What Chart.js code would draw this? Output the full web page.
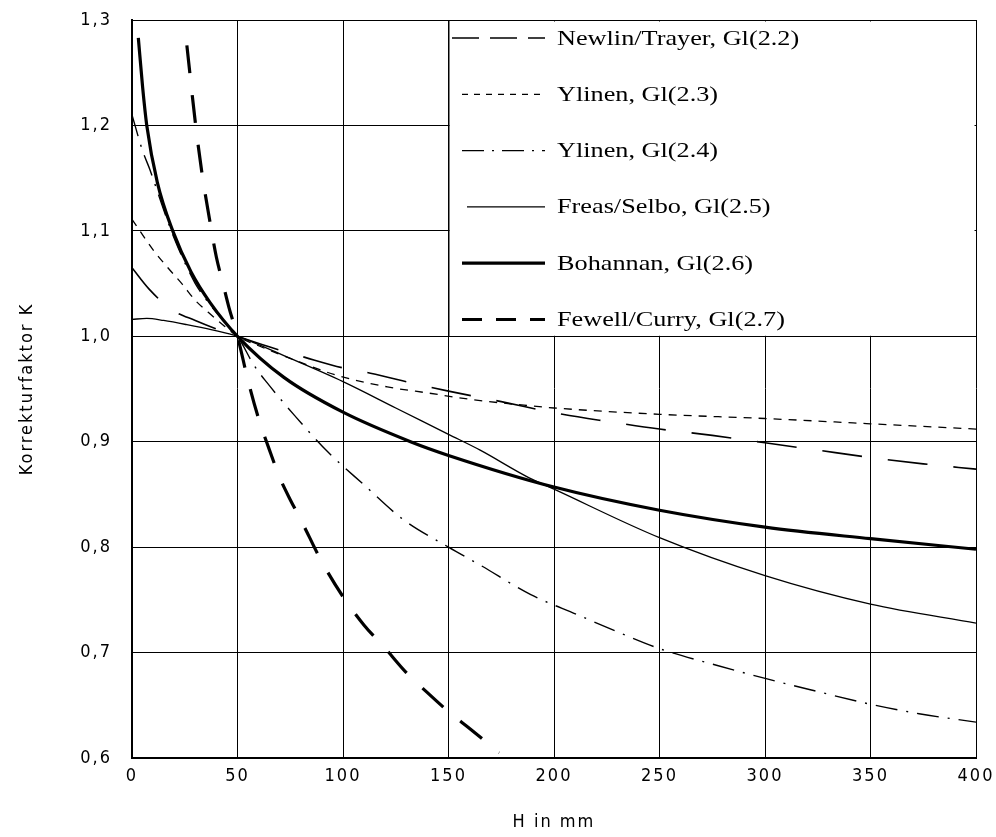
<!DOCTYPE html>
<html>
<head>
<meta charset="utf-8">
<script src="https://cdn.jsdelivr.net/npm/chart.js@4/dist/chart.umd.min.js"></script>
<style>
  html, body { margin: 0; padding: 0; background: #fff; }
  #wrap { width: 996px; height: 837px; }
</style>
</head>
<body>
<div id="wrap"><canvas id="chart" width="996" height="837"></canvas></div>
<script>
// tick labels
var xTicks = [0, 50, 100, 150, 200, 250, 300, 350, 400];
var yTickLabels = ['0,6', '0,7', '0,8', '0,9', '1,0', '1,1', '1,2', '1,3'];

// series names (legend)
var seriesNames = [
  'Newlin/Trayer, Gl(2.2)',
  'Ylinen, Gl(2.3)',
  'Ylinen, Gl(2.4)',
  'Freas/Selbo, Gl(2.5)',
  'Bohannan, Gl(2.6)',
  'Fewell/Curry, Gl(2.7)'
];

// values: H in mm, K
var newlinH = [0, 8, 19, 30, 40, 50, 65, 82, 100, 113, 136, 150, 175, 204, 226, 250, 275, 300, 325, 350, 375, 400];
var newlinK = [1.065, 1.045, 1.025, 1.015, 1.007, 1.0, 0.990, 0.980, 0.970, 0.965, 0.954, 0.948, 0.938, 0.926, 0.919, 0.912, 0.906, 0.899, 0.892, 0.885, 0.879, 0.874];

var ylinen3H = [0, 10, 17, 24, 30, 36, 43, 50, 60, 75, 97, 121, 141, 161, 189, 200, 250, 300, 350, 400];
var ylinen3K = [1.111, 1.082, 1.065, 1.049, 1.034, 1.023, 1.011, 1.0, 0.991, 0.979, 0.963, 0.952, 0.946, 0.940, 0.934, 0.932, 0.926, 0.922, 0.917, 0.912];

var ylinen4H = [0, 5, 8.5, 15, 20, 25, 30, 37, 44, 50, 58, 64, 77, 93, 110, 128, 150, 165, 189, 211, 232, 251, 277, 301, 323, 350, 373, 400];
var ylinen4K = [1.21, 1.176, 1.158, 1.12, 1.093, 1.07, 1.05, 1.03, 1.014, 1.0, 0.972, 0.956, 0.925, 0.890, 0.859, 0.827, 0.800, 0.783, 0.755, 0.736, 0.718, 0.703, 0.688, 0.675, 0.664, 0.651, 0.642, 0.634];

var freasH = [0, 7, 15, 26, 38, 50, 75, 100, 125, 150, 165, 188, 200, 250, 300, 350, 400];
var freasK = [1.016, 1.017, 1.015, 1.011, 1.006, 1.0, 0.979, 0.957, 0.932, 0.907, 0.892, 0.866, 0.855, 0.809, 0.773, 0.746, 0.728];

var bohannanH = [3, 5, 7, 12, 19.5, 28, 37, 50, 72, 100, 132, 150, 200, 250, 300, 350, 400];
var bohannanK = [1.283, 1.237, 1.2, 1.146, 1.099, 1.061, 1.032, 1.0, 0.961, 0.928, 0.900, 0.887, 0.857, 0.835, 0.819, 0.808, 0.798];

var fewellH = [26, 30, 33, 37, 40, 43, 46, 50, 55, 60, 65, 70, 75, 80, 90, 100, 110, 120, 130, 140, 150, 160, 174];
var fewellK = [1.276, 1.203, 1.157, 1.108, 1.075, 1.051, 1.027, 1.0, 0.958, 0.922, 0.893, 0.866, 0.845, 0.826, 0.786, 0.753, 0.726, 0.704, 0.681, 0.662, 0.644, 0.628, 0.605];

function pts(xs, ys) {
  var out = [];
  for (var i = 0; i < xs.length; i++) out.push({x: xs[i], y: ys[i]});
  return out;
}

function line(label, xs, ys, width, dash) {
  return {
    label: label,
    data: pts(xs, ys),
    borderColor: '#000',
    borderWidth: width,
    borderDash: dash,
    borderCapStyle: 'butt',
    pointRadius: 0,
    fill: false,
    cubicInterpolationMode: 'monotone'
  };
}

var legendDash = [[27, 11], [6, 6], [22, 8, 2, 8], [], [], [20, 14]];
var legendFrom = [452, 462, 462, 467, 462, 462];

// spaced-out axis lettering like the scan
var spacing = {
  id: 'spacing',
  beforeDraw: function(chart) { chart.ctx.letterSpacing = '2px'; }
};

// white legend box sitting in the upper right cells
var legendBox = {
  id: 'legendBox',
  afterDatasetsDraw: function(chart) {
    var ctx = chart.ctx;
    var xs = chart.scales.x, ys = chart.scales.y;
    var l = xs.getPixelForValue(150), r = xs.getPixelForValue(400);
    var t = ys.getPixelForValue(1.3), b = ys.getPixelForValue(1.0);
    ctx.save();
    ctx.letterSpacing = '0px';
    ctx.fillStyle = '#fff';
    ctx.fillRect(l + 1, t + 1.5, r - l - 2.5, b - t - 2);
    ctx.strokeStyle = '#000';
    ctx.lineWidth = 1;
    ctx.beginPath();
    ctx.moveTo(l + 0.5, t); ctx.lineTo(l + 0.5, b);
    ctx.stroke();
    chart.data.datasets.forEach(function(ds, i) {
      var cy = t + 18 + i * 56.3;
      ctx.lineWidth = ds.borderWidth;
      ctx.setLineDash(legendDash[i]);
      ctx.beginPath();
      ctx.moveTo(legendFrom[i], cy);
      ctx.lineTo(545, cy);
      ctx.stroke();
      ctx.setLineDash([]);
      ctx.save();
      ctx.translate(557, cy);
      ctx.scale(1.25, 1);
      ctx.fillStyle = '#000';
      ctx.font = '21px "Liberation Serif", "Times New Roman", serif';
      ctx.textBaseline = 'middle';
      ctx.fillText(ds.label, 0, 1);
      ctx.restore();
    });
    ctx.restore();
  }
};

var tickFont = {family: '"Liberation Sans Narrow", "DejaVu Sans Condensed", sans-serif', size: 18};

var ctx = document.getElementById('chart').getContext('2d');
var chart = new Chart(ctx, {
  type: 'line',
  data: {
    datasets: [
      line(seriesNames[0], newlinH, newlinK, 1.6, [40, 26]),
      line(seriesNames[1], ylinen3H, ylinen3K, 1.3, [8, 7]),
      line(seriesNames[2], ylinen4H, ylinen4K, 1.4, [22, 9, 2, 9]),
      line(seriesNames[3], freasH, freasK, 1.3, []),
      line(seriesNames[4], bohannanH, bohannanK, 3.2, []),
      line(seriesNames[5], fewellH, fewellK, 3.2, [28, 22])
    ]
  },
  options: {
    responsive: false,
    animation: false,
    layout: {padding: {top: 20, right: 20, left: 0, bottom: 0}},
    plugins: {legend: {display: false}, tooltip: {enabled: false}},
    scales: {
      x: {
        type: 'linear',
        min: 0, max: 400,
        afterFit: function(s) { s.height = 79; s.paddingLeft = 0; s.paddingRight = 0; },
        afterBuildTicks: function(s) { s.ticks = xTicks.map(function(v) { return {value: v}; }); },
        grid: {color: '#000', lineWidth: 1, drawTicks: false},
        border: {color: '#000', width: 2},
        ticks: {color: '#000', font: tickFont, padding: 8, maxRotation: 0,
          callback: function(v) { return String(v); }},
        title: {display: true, text: 'H in mm', color: '#000',
          font: {family: '"Liberation Sans Narrow", "DejaVu Sans Condensed", sans-serif', size: 18},
          padding: {top: 0, bottom: 4}}
      },
      y: {
        type: 'linear',
        min: 0.6, max: 1.3,
        afterFit: function(s) { s.width = 132; s.paddingTop = 0; s.paddingBottom = 0; },
        afterBuildTicks: function(s) {
          s.ticks = yTickLabels.map(function(t, i) { return {value: 0.6 + i * 0.1}; });
        },
        grid: {color: '#000', lineWidth: 1, drawTicks: false},
        border: {color: '#000', width: 2},
        ticks: {color: '#000', font: tickFont, padding: 20,
          callback: function(v, i) { return yTickLabels[i]; }},
        title: {display: true, text: 'Korrekturfaktor K', color: '#000',
          font: {family: '"Liberation Sans Narrow", "DejaVu Sans Condensed", sans-serif', size: 18},
          padding: {top: 17, bottom: 0}}
      }
    }
  },
  plugins: [spacing, legendBox]
});
</script>
</body>
</html>
